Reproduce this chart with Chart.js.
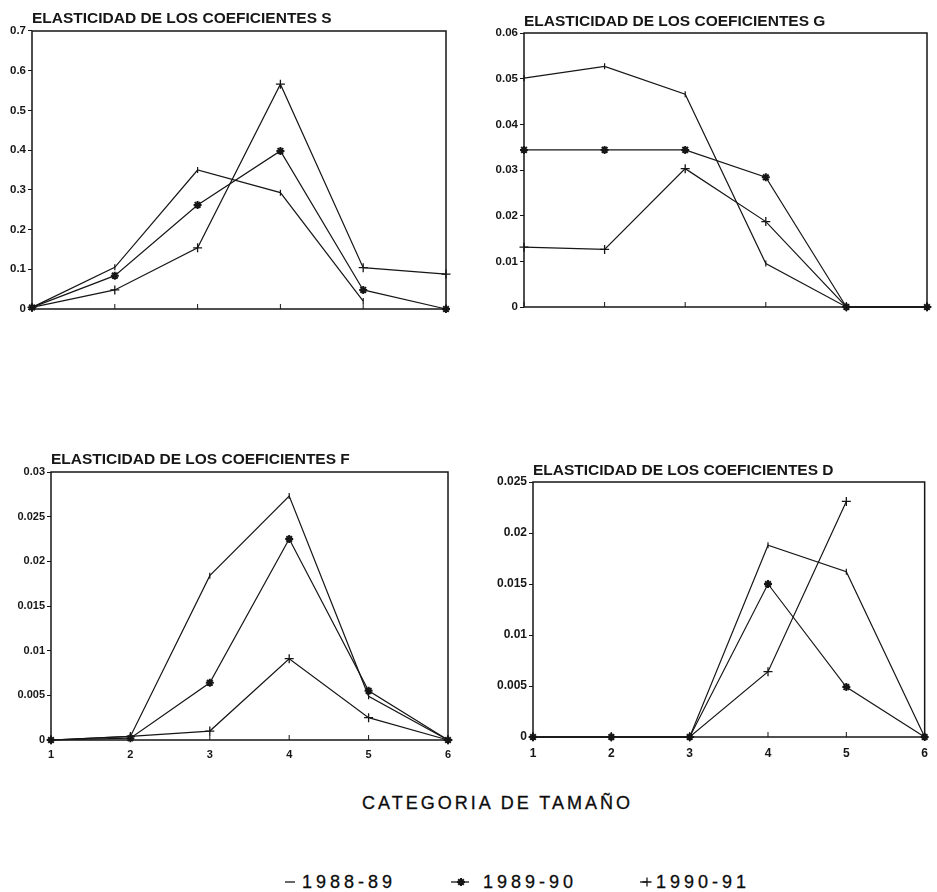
<!DOCTYPE html>
<html lang="es">
<head>
<meta charset="utf-8">
<title>Elasticidad de los coeficientes</title>
<script src="https://cdn.jsdelivr.net/npm/chart.js@4.4.1/dist/chart.umd.min.js"></script>
<style>
    html, body {
        margin: 0;
        padding: 0;
        background: #ffffff;
    }
    #page {
        position: relative;
        width: 937px;
        height: 892px;
        overflow: hidden;
        font-family: 'Liberation Sans', Arial, sans-serif;
        color: #0c0c0c;
    }
    .panel {
        position: absolute;
    }
    .caption {
        position: absolute;
        font-size: 18px;
        line-height: 18px;
        letter-spacing: 3px;
        white-space: nowrap;
        -webkit-text-stroke: 0.3px #0c0c0c;
    }
    .legend-mark {
        position: absolute;
    }
</style>
</head>
<body>
<div id="page">
    <div class="panel" style="left:0;top:0"><canvas id="chartS" width="460" height="330"></canvas></div>
    <div class="panel" style="left:470px;top:0"><canvas id="chartG" width="467" height="330"></canvas></div>
    <div class="panel" style="left:0;top:450px"><canvas id="chartF" width="460" height="330"></canvas></div>
    <div class="panel" style="left:470px;top:450px"><canvas id="chartD" width="467" height="330"></canvas></div>

    <div class="caption" style="left:362px;top:794px">CATEGORIA DE TAMAÑO</div>

    <canvas class="legend-mark" id="mark8889" width="16" height="12" style="left:282px;top:876px"></canvas>
    <div class="caption" style="left:302px;top:873px;letter-spacing:4px">1988-89</div>
    <canvas class="legend-mark" id="mark8990" width="20" height="12" style="left:450px;top:876px"></canvas>
    <div class="caption" style="left:483px;top:873px;letter-spacing:4px">1989-90</div>
    <canvas class="legend-mark" id="mark9091" width="16" height="12" style="left:638px;top:876px"></canvas>
    <div class="caption" style="left:656px;top:873px;letter-spacing:4px">1990-91</div>
</div>

<script>
// Size categories on the x axis
const categories = ['1', '2', '3', '4', '5', '6'];
const seasons = ['1988-89', '1989-90', '1990-91'];

// Coefficients S
const s8889 = [0.004, 0.105, 0.35, 0.293, 0.02, null];
const s8990 = [0.004, 0.084, 0.262, 0.398, 0.048, 0];
const s9091 = [0.004, 0.048, 0.154, 0.566, 0.104, 0.088];
const yTicksS = [0, 0.1, 0.2, 0.3, 0.4, 0.5, 0.6, 0.7];

// Coefficients G
const g8889 = [0.0501, 0.0527, 0.0466, 0.0095, 0, 0];
const g8990 = [0.0344, 0.0344, 0.0344, 0.0284, 0, 0];
const g9091 = [0.0131, 0.0126, 0.0303, 0.0187, 0, 0];
const yTicksG = [0, 0.01, 0.02, 0.03, 0.04, 0.05, 0.06];

// Coefficients F
const f8889 = [0, 0.0004, 0.0184, 0.0273, 0.0049, 0];
const f8990 = [0, 0.0002, 0.0064, 0.0225, 0.0055, 0];
const f9091 = [0, 0.0004, 0.001, 0.0091, 0.0025, 0];
const yTicksF = [0, 0.005, 0.01, 0.015, 0.02, 0.025, 0.03];

// Coefficients D
const d8889 = [0, 0, 0, 0.0188, 0.0162, 0];
const d8990 = [0, 0, 0, 0.015, 0.0049, 0];
const d9091 = [0, 0, 0, 0.0064, 0.0231, null];
const yTicksD = [0, 0.005, 0.01, 0.015, 0.02, 0.025];

const INK = '#161616';
const FONT = "'Liberation Sans', Arial, sans-serif";

// Marker look for each season: plain tick, asterisk, plus
const seriesStyles = [
    { pointStyle: 'line', rotation: 90, pointRadius: 3, pointBorderWidth: 1.2 },
    { pointStyle: 'star', rotation: 0, pointRadius: 4, pointBorderWidth: 2 },
    { pointStyle: 'cross', rotation: 0, pointRadius: 4.5, pointBorderWidth: 1.3 }
];

/**
 * Box around the plot area plus inward tick marks on the x axis
 */
const framePlugin = {
    id: 'frame',
    afterDraw(chart) {
        const { ctx, chartArea } = chart;
        const xScale = chart.scales.x;
        ctx.save();
        ctx.strokeStyle = INK;
        ctx.lineWidth = 1.5;
        ctx.strokeRect(chartArea.left, chartArea.top,
            chartArea.right - chartArea.left, chartArea.bottom - chartArea.top);
        ctx.lineWidth = 1;
        xScale.ticks.forEach((tick, i) => {
            const x = xScale.getPixelForTick(i);
            ctx.beginPath();
            ctx.moveTo(x, chartArea.bottom);
            ctx.lineTo(x, chartArea.bottom - 5);
            ctx.stroke();
        });
        ctx.restore();
    }
};

document.addEventListener('DOMContentLoaded', function() {
    createPanel('chartS', 'ELASTICIDAD DE LOS COEFICIENTES S', [s8889, s8990, s9091], yTicksS, {
        yWidth: 32, xHeight: 21, right: 14, titleTop: 9.7, titleBottom: 2.7, showX: false, tickSize: 11.5
    });
    createPanel('chartG', 'ELASTICIDAD DE LOS COEFICIENTES G', [g8889, g8990, g9091], yTicksG, {
        yWidth: 54, xHeight: 23, right: 10, titleTop: 12.2, titleBottom: 2.2, showX: false, tickSize: 11.5
    });
    createPanel('chartF', 'ELASTICIDAD DE LOS COEFICIENTES F', [f8889, f8990, f9091], yTicksF, {
        yWidth: 51, xHeight: 40, right: 12, titleTop: 0.7, titleBottom: 2.7, showX: true, xPad: 8, tickSize: 11
    });
    createPanel('chartD', 'ELASTICIDAD DE LOS COEFICIENTES D', [d8889, d8990, d9091], yTicksD, {
        yWidth: 63, xHeight: 43, right: 5, titleTop: 11.4, titleBottom: 2, showX: true, xPad: 9, tickSize: 12
    });
    drawLegendMarks();
});

/**
 * Format a tick value without floating point noise
 * @param {number} value
 */
function formatTick(value) {
    return String(parseFloat(Number(value).toFixed(4)));
}

/**
 * Create one elasticity panel
 * @param {string} canvasId ID of the canvas element
 * @param {string} title Panel title
 * @param {Array} series One value array per season
 * @param {Array} yTicks Tick values for the y axis
 * @param {Object} box Layout sizes for the panel
 */
function createPanel(canvasId, title, series, yTicks, box) {
    const ctx = document.getElementById(canvasId);
    if (!ctx) return;

    const datasets = series.map((values, i) => ({
        label: seasons[i],
        data: values,
        borderColor: INK,
        backgroundColor: INK,
        pointBorderColor: INK,
        pointBackgroundColor: INK,
        borderWidth: 1.2,
        tension: 0,
        clip: false,
        spanGaps: false,
        ...seriesStyles[i]
    }));

    const tickFont = { family: FONT, size: box.tickSize, weight: 'bold' };

    return new Chart(ctx, {
        type: 'line',
        data: {
            labels: categories,
            datasets: datasets
        },
        plugins: [framePlugin],
        options: {
            responsive: false,
            animation: false,
            layout: {
                padding: { left: 0, top: 0, right: box.right, bottom: 0 }
            },
            plugins: {
                legend: { display: false },
                tooltip: { enabled: false },
                title: {
                    display: true,
                    text: title,
                    align: 'start',
                    fullSize: false,
                    color: INK,
                    font: { family: FONT, size: 15.5, weight: 'bold' },
                    padding: { top: box.titleTop, bottom: box.titleBottom }
                }
            },
            scales: {
                x: {
                    type: 'category',
                    offset: false,
                    grid: { display: true, drawOnChartArea: false, drawTicks: false },
                    border: { display: false },
                    ticks: {
                        display: box.showX,
                        padding: box.xPad || 0,
                        color: INK,
                        maxRotation: 0,
                        font: tickFont
                    },
                    afterFit: function(scale) {
                        scale.height = box.xHeight;
                    }
                },
                y: {
                    type: 'linear',
                    min: yTicks[0],
                    max: yTicks[yTicks.length - 1],
                    grid: {
                        drawOnChartArea: false,
                        drawTicks: true,
                        tickLength: 4,
                        color: INK
                    },
                    border: { display: false },
                    afterBuildTicks: function(scale) {
                        scale.ticks = yTicks.map(v => ({ value: v }));
                    },
                    ticks: {
                        padding: 2,
                        color: INK,
                        font: tickFont,
                        callback: function(value) {
                            return formatTick(value);
                        }
                    },
                    afterFit: function(scale) {
                        scale.width = box.yWidth;
                    }
                }
            }
        }
    });
}

/**
 * Small marker samples next to the season labels
 */
function drawLegendMarks() {
    const marks = [
        { id: 'mark8889', style: 0, lineFrom: 3, lineTo: 13, cx: 8 },
        { id: 'mark8990', style: 1, lineFrom: 1, lineTo: 19, cx: 11 },
        { id: 'mark9091', style: 2, lineFrom: 2, lineTo: 9, cx: 9 }
    ];
    marks.forEach(m => {
        const canvas = document.getElementById(m.id);
        if (!canvas) return;
        const ctx = canvas.getContext('2d');
        const s = seriesStyles[m.style];
        ctx.strokeStyle = INK;
        ctx.fillStyle = INK;
        ctx.lineWidth = 1.3;
        ctx.beginPath();
        ctx.moveTo(m.lineFrom, 6);
        ctx.lineTo(m.lineTo, 6);
        ctx.stroke();
        if (m.style > 0) {
            ctx.lineWidth = s.pointBorderWidth;
            Chart.helpers.drawPoint(ctx, {
                pointStyle: s.pointStyle,
                rotation: s.rotation,
                radius: s.pointRadius,
                borderWidth: s.pointBorderWidth
            }, m.cx, 6);
        }
    });
}
</script>
</body>
</html>
